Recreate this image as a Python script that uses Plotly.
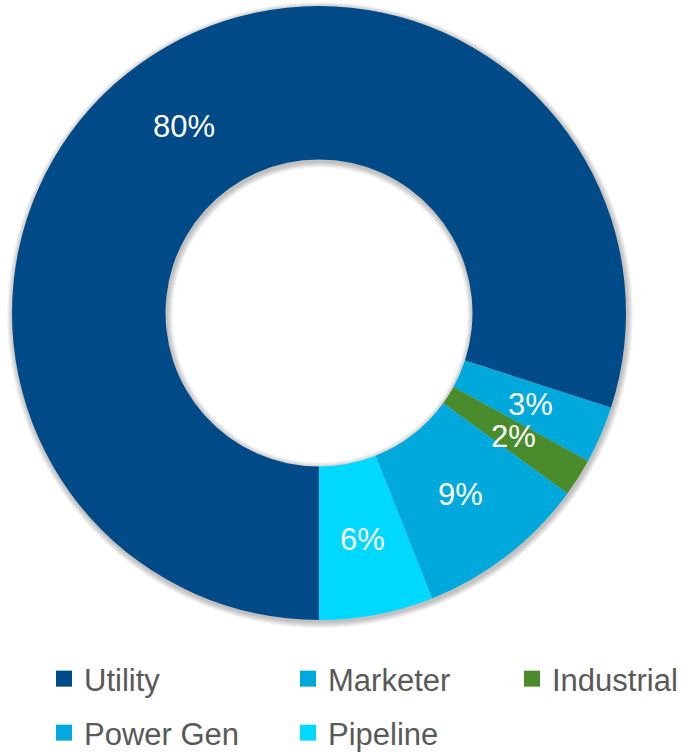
import math
import plotly.graph_objects as go

# Customer mix by segment (share of total, %)
segments = ["Utility", "Marketer", "Industrial", "Power Gen", "Pipeline"]
shares = [80, 3, 2, 9, 6]
colors = ["#004A87", "#00A9DC", "#4A8B2C", "#00A9DC", "#00D9FF"]
legend_rows = [["Utility", "Marketer", "Industrial"], ["Power Gen", "Pipeline"]]
legend_widths = {"Utility": 199, "Marketer": 179, "Power Gen": 199}

W, H = 681, 754
FONT = "Liberation Sans, Arial, sans-serif"

# Donut geometry (pixels)
cx, cy, R = 319.0, 313.0, 307.0
HOLE = 0.5
START = 180.0  # first slice starts at 6 o'clock


def domain(x0, y0, rad):
    return dict(x=[(x0 - rad) / W, (x0 + rad) / W],
                y=[1 - (y0 + rad) / H, 1 - (y0 - rad) / H])


fig = go.Figure()

# soft drop shadow behind the ring
r_in = R * HOLE
for k in range(1, 7):
    fig.add_trace(go.Pie(
        values=[1], labels=["shadow"], sort=False,
        hole=(r_in - k) / (R + k),
        marker=dict(colors=["rgba(0,0,0,0.045)"], line=dict(width=0)),
        textinfo="none", hoverinfo="skip", showlegend=False,
        domain=domain(cx + 1, cy + 2, R + k),
    ))

fig.add_trace(go.Pie(
    labels=segments,
    values=shares,
    sort=False,
    direction="clockwise",
    rotation=START,
    hole=HOLE,
    marker=dict(colors=colors, line=dict(width=0)),
    textinfo="none",
    showlegend=False,
    domain=domain(cx, cy, R),
))

# percentage labels at the middle of each slice, midway across the ring
total = sum(shares)
r_mid = R * (1 + HOLE) / 2
cum = 0.0
for seg, v in zip(segments, shares):
    ang = math.radians(START + 360.0 * (cum + v / 2) / total)
    px = cx + r_mid * math.sin(ang)
    py = cy - r_mid * math.cos(ang)
    fig.add_annotation(
        x=px / W, y=1 - py / H, xref="paper", yref="paper",
        text=f"{v / total:.0%}", showarrow=False,
        xanchor="center", yanchor="middle",
        font=dict(family=FONT, size=31, color="white"),
    )
    cum += v

# legend entries, two rows
color_of = dict(zip(segments, colors))
for i, row in enumerate(legend_rows):
    lg = "legend" if i == 0 else f"legend{i + 1}"
    for seg in row:
        fig.add_trace(go.Scatter(
            x=[None], y=[None], mode="markers", name=seg,
            marker=dict(symbol="square", size=16, color=color_of[seg]),
            legend=lg, legendwidth=legend_widths.get(seg),
            hoverinfo="skip",
        ))

legend_style = dict(
    orientation="h", x=44 / W, xanchor="left", yanchor="middle",
    font=dict(family=FONT, size=31, color="#595959"),
    bgcolor="rgba(0,0,0,0)", itemclick=False, itemdoubleclick=False,
)

fig.update_layout(
    width=W,
    height=H,
    margin=dict(l=0, r=0, t=0, b=0, autoexpand=False),
    paper_bgcolor="white",
    plot_bgcolor="white",
    xaxis=dict(visible=False),
    yaxis=dict(visible=False),
    showlegend=True,
    legend=dict(legend_style, y=1 - 679 / H),
    legend2=dict(legend_style, y=1 - 733 / H),
)

fig.write_html("out.html")
